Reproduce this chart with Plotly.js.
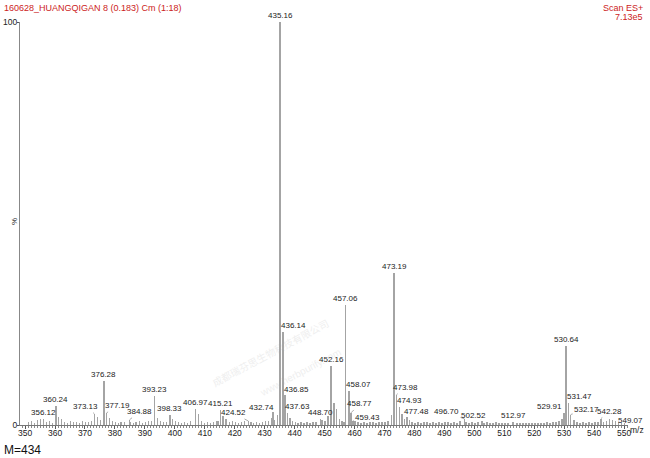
<!DOCTYPE html>
<html>
<head>
<meta charset="utf-8">
<script src="https://cdn.plot.ly/plotly-3.0.1.min.js"></script>
<style>html,body{margin:0;padding:0;background:#fff;}#chart{width:650px;height:458px;}</style>
</head>
<body>
<div id="chart"></div>
<script>
// Labelled peaks (m/z, relative intensity %)
var labelMz = [356.12, 360.24, 373.13, 376.28, 377.19, 384.88, 393.23, 398.33, 406.97, 415.21,
  424.52, 432.74, 435.16, 436.14, 436.85, 437.63, 448.70, 452.16, 457.06, 458.07,
  458.77, 459.43, 473.19, 473.98, 474.93, 477.48, 496.70, 502.52, 512.97, 529.91,
  530.64, 531.47, 532.17, 542.28, 549.07];
var labelInt = [1.6, 4.8, 2.8, 10.9, 3.0, 1.3, 7.2, 2.4, 4.0, 3.6,
  1.0, 3.2, 100, 23.2, 7.5, 3.0, 1.5, 14.6, 29.8, 8.5,
  3.0, 1.0, 37.6, 7.5, 4.5, 2.0, 1.5, 1.0, 0.8, 3.0,
  19.6, 5.5, 2.6, 1.6, 0.6];

// Unlabelled minor peaks
var minorMz = [351.1, 352.2, 353.1, 354.2, 355.1, 357.2, 358.2, 359.1, 361.2, 362.2, 363.1, 364.2,
  365.2, 366.1, 367.2, 368.1, 369.2, 370.2, 371.1, 372.2, 374.2, 375.2, 378.2, 379.2, 380.2,
  381.2, 382.1, 383.2, 385.2, 386.2, 387.1, 388.2, 389.2, 390.2, 391.2, 392.2, 394.2, 395.2,
  396.2, 397.2, 399.2, 400.2, 401.2, 402.2, 403.2, 404.2, 405.2, 407.9, 408.9, 409.9, 410.9,
  411.9, 412.9, 413.9, 414.4, 416.1, 417.1, 418.2, 419.2, 420.2, 421.2, 422.2, 423.2, 425.4,
  426.2, 427.2, 428.2, 429.2, 430.2, 431.2, 432.2, 433.2, 434.3, 438.5, 439.3, 440.2, 441.2,
  442.2, 443.2, 444.2, 445.2, 446.2, 447.2, 449.2, 450.2, 451.2, 453.1, 454.0, 454.9, 455.8,
  456.4, 460.2, 461.2, 462.2, 463.2, 464.2, 465.2, 466.2, 467.2, 468.2, 469.2, 470.2, 471.2,
  472.3, 475.8, 476.6, 478.3, 479.2, 480.2, 481.2, 482.2, 483.2, 484.2, 485.2, 486.2, 487.2,
  488.2, 489.2, 490.2, 491.2, 492.2, 493.2, 494.2, 495.2, 497.2, 498.2, 499.2, 500.2, 501.2,
  503.2, 504.2, 505.2, 506.2, 507.2, 508.2, 509.2, 510.2, 511.2, 514.2, 515.2, 516.2, 517.2,
  518.2, 519.2, 520.2, 521.2, 522.2, 523.2, 524.2, 525.2, 526.2, 527.2, 528.2, 529.2, 533.2,
  534.2, 535.2, 536.2, 537.2, 538.2, 539.2, 540.2, 541.2, 543.2, 544.2, 545.2, 546.2, 547.2,
  548.2, 550.2];
var minorInt = [0.8, 1.0, 0.6, 1.2, 1.4, 0.7, 0.9, 0.6, 2.0, 1.4, 0.8, 0.6,
  0.9, 0.7, 0.8, 0.6, 0.9, 0.7, 0.8, 1.0, 2.0, 1.2, 1.8, 0.9, 0.7,
  0.6, 0.8, 0.7, 0.8, 0.6, 0.7, 0.9, 0.6, 0.8, 1.0, 0.9, 1.8, 1.0,
  0.7, 0.8, 1.6, 0.9, 0.7, 0.6, 0.7, 0.6, 0.9, 2.8, 1.1, 0.6, 0.8,
  0.6, 0.8, 1.0, 1.0, 2.2, 1.5, 0.8, 0.9, 0.7, 0.6, 0.8, 1.0, 0.8,
  0.6, 0.7, 0.6, 0.8, 0.9, 1.0, 1.8, 1.2, 2.6, 1.8, 1.0, 0.7, 0.6,
  0.8, 0.6, 0.7, 0.6, 0.8, 0.7, 1.2, 1.0, 2.2, 5.5, 4.0, 1.6, 1.0,
  0.8, 1.0, 0.7, 0.6, 0.8, 0.6, 0.7, 0.8, 0.6, 0.7, 0.8, 0.7, 1.0,
  2.6, 2.8, 1.5, 1.2, 0.8, 0.6, 0.7, 0.6, 0.8, 0.7, 0.6, 0.7, 0.6,
  0.8, 0.6, 0.7, 0.8, 0.6, 0.7, 0.6, 0.9, 0.8, 0.6, 0.7, 0.6, 0.7,
  0.6, 0.7, 0.5, 0.6, 0.7, 0.5, 0.6, 0.5, 0.6, 0.5, 0.6, 0.5, 0.6,
  0.5, 0.6, 0.5, 0.6, 0.5, 0.6, 0.7, 0.6, 0.7, 0.8, 1.0, 1.4, 1.2,
  0.8, 0.6, 0.7, 0.6, 0.7, 0.6, 0.8, 0.7, 0.8, 1.0, 1.4, 1.2, 1.0,
  0.7, 0.5];

var xTickVals = [350, 360, 370, 380, 390, 400, 410, 420, 430, 440, 450, 460, 470, 480, 490, 500, 510, 520, 530, 540, 550];
var yTickVals = [0, 100];

// Label placement (pixel offset of label centre from peak top); absent = directly above
var labelOffsets = {
  '373.13': [-9, -7], '377.19': [11, -7], '384.88': [10, -8], '424.52': [-15, -8],
  '432.74': [-11, -5], '436.14': [10, -6], '436.85': [11, -5], '437.63': [10, -6],
  '458.07': [10, -6], '458.77': [9, -9], '459.43': [15, -3], '473.98': [9, -7],
  '474.93': [10, -6], '477.48': [10, -5], '496.70': [-18, -7], '502.52': [-8, -5],
  '529.91': [-14, -6], '531.47': [11, -6], '532.17': [16, -5], '542.28': [9, -7],
  '549.07': [9, -2]
};

var FONT = 'Liberation Sans, Arial, sans-serif';
var allMz = minorMz.concat(labelMz);
var allInt = minorInt.concat(labelInt);

var trace = {
  type: 'bar',
  x: allMz,
  y: allInt,
  width: 0.5,
  marker: {color: '#a4a4a4', line: {width: 0}},
  hoverinfo: 'x+y'
};

var annotations = [];
for (var i = 0; i < labelMz.length; i++) {
  var txt = labelMz[i].toFixed(2);
  var off = labelOffsets[txt];
  if (off) {
    annotations.push({
      x: labelMz[i], y: labelInt[i], xref: 'x', yref: 'y', text: txt,
      showarrow: true, arrowhead: 0, arrowwidth: 0.7, arrowcolor: '#888',
      ax: off[0], ay: off[1],
      font: {family: FONT, size: 8, color: '#222'}
    });
  } else {
    annotations.push({
      x: labelMz[i], y: labelInt[i], xref: 'x', yref: 'y', text: txt,
      showarrow: false, yanchor: 'bottom', yshift: 0,
      font: {family: FONT, size: 8, color: '#222'}
    });
  }
}

annotations.push({
  xref: 'paper', yref: 'paper', x: (645 - 20) / 608, y: (425 - 8) / 403, xanchor: 'right', yanchor: 'middle',
  text: 'Scan ES+', showarrow: false, font: {family: FONT, size: 9, color: '#cc2222'}
});
annotations.push({
  xref: 'paper', yref: 'paper', x: (645 - 20) / 608, y: (425 - 17) / 403, xanchor: 'right', yanchor: 'middle',
  text: '7.13e5', showarrow: false, font: {family: FONT, size: 9, color: '#cc2222'}
});
annotations.push({
  xref: 'paper', yref: 'paper', x: (637 - 20) / 608, y: (425 - 430) / 403, xanchor: 'center', yanchor: 'middle',
  text: 'm/z', showarrow: false, font: {family: FONT, size: 8.5, color: '#222'}
});
annotations.push({
  xref: 'paper', yref: 'paper', x: (2 - 20) / 608, y: (425 - 450) / 403, xanchor: 'left', yanchor: 'middle',
  text: 'M=434', showarrow: false, font: {family: FONT, size: 12, color: '#111'}
});
annotations.push({
  xref: 'paper', yref: 'paper', x: (14 - 20) / 608, y: (425 - 222) / 403, xanchor: 'center', yanchor: 'middle',
  text: '%', showarrow: false, textangle: -90, font: {family: FONT, size: 8, color: '#222'}
});
// faint watermark
annotations.push({
  xref: 'paper', yref: 'paper', x: (270 - 20) / 608, y: (425 - 352) / 403, xanchor: 'center', yanchor: 'middle',
  text: '成都瑞芬思生物科技有限公司', showarrow: false, textangle: -28, opacity: 0.2,
  font: {family: 'Noto Sans CJK SC, sans-serif', size: 10, color: '#b0b0b0'}
});
annotations.push({
  xref: 'paper', yref: 'paper', x: (300 - 20) / 608, y: (425 - 372) / 403, xanchor: 'center', yanchor: 'middle',
  text: 'www.herbpurify.com', showarrow: false, textangle: -28, opacity: 0.2,
  font: {family: FONT, size: 10, color: '#b0b0b0'}
});

var layout = {
  width: 650, height: 458,
  margin: {l: 20, r: 22, t: 22, b: 33, pad: 0},
  paper_bgcolor: '#ffffff', plot_bgcolor: '#ffffff',
  showlegend: false,
  bargap: 0,
  title: {
    text: '160628_HUANGQIGAN 8 (0.183) Cm (1:18)',
    x: 4 / 650, xanchor: 'left', xref: 'container',
    y: 1 - 8 / 458, yanchor: 'middle', yref: 'container',
    font: {family: FONT, size: 9, color: '#cc2222'}
  },
  xaxis: {
    range: [348.3, 551.3],
    tickmode: 'array', tickvals: xTickVals,
    ticks: 'outside', ticklen: 3, tickwidth: 1, tickcolor: '#555',
    ticklabelstandoff: -3,
    minor: {dtick: 1, tick0: 350, ticks: 'outside', ticklen: 2, tickcolor: '#888', showgrid: false},
    showline: true, linecolor: '#777', linewidth: 1,
    showgrid: false, zeroline: false,
    tickfont: {family: FONT, size: 8.5, color: '#222'}
  },
  yaxis: {
    range: [0, 100],
    tickmode: 'array', tickvals: yTickVals,
    ticks: 'outside', ticklen: 2, tickwidth: 1, tickcolor: '#555',
    ticklabelstandoff: -2,
    showline: true, linecolor: '#888', linewidth: 1,
    showgrid: false, zeroline: false,
    tickfont: {family: FONT, size: 8.5, color: '#222'}
  },
  annotations: annotations
};

Plotly.newPlot('chart', [trace], layout, {displayModeBar: false, staticPlot: true});
</script>
</body>
</html>
